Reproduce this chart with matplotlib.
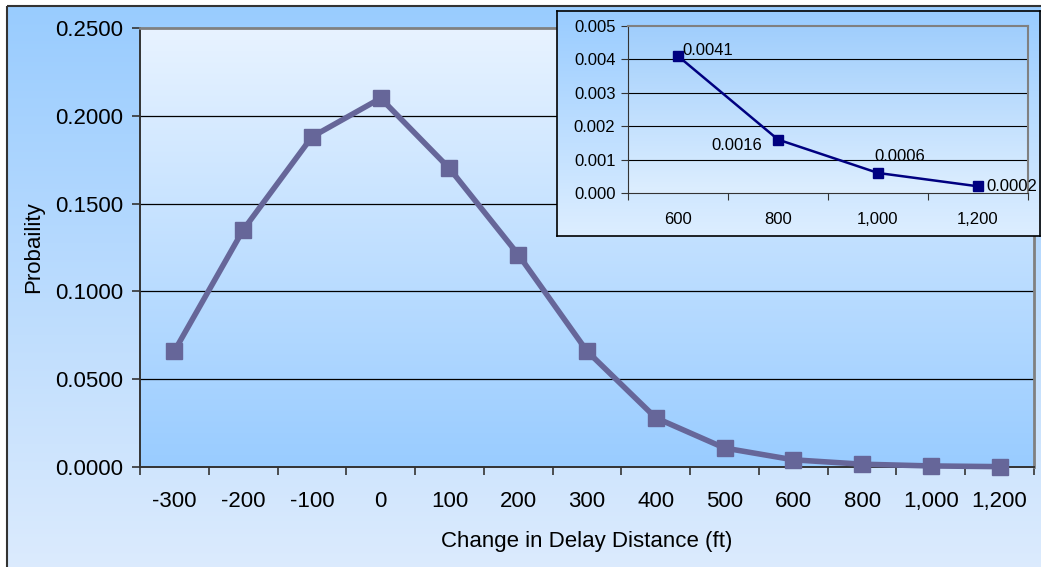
import numpy as np
import matplotlib
matplotlib.use("Agg")
import matplotlib.pyplot as plt
from matplotlib.colors import LinearSegmentedColormap
from matplotlib.patches import Rectangle

plt.rcParams['font.family'] = ['Liberation Sans', 'DejaVu Sans']

# Main series: probability of each change in delay distance
categories = ["-300", "-200", "-100", "0", "100", "200", "300", "400",
              "500", "600", "800", "1,000", "1,200"]
probability = [0.0660, 0.1350, 0.1880, 0.2100, 0.1700, 0.1210, 0.0660,
               0.0280, 0.0108, 0.0041, 0.0016, 0.0006, 0.0002]

# Tail detail
tail_categories = ["600", "800", "1,000", "1,200"]
tail_probability = [0.0041, 0.0016, 0.0006, 0.0002]
tail_labels = ["0.0041", "0.0016", "0.0006", "0.0002"]

main_yticks = [0.0, 0.05, 0.10, 0.15, 0.20, 0.25]
tail_yticks = [0.000, 0.001, 0.002, 0.003, 0.004, 0.005]

W, H = 1041, 567
fig = plt.figure(figsize=(W / 100, H / 100), dpi=100)


def px_rect(x0, y0, x1, y1):
    return [x0 / W, (H - y1) / H, (x1 - x0) / W, (y1 - y0) / H]


def gradient(ax, top, bottom, zorder=0):
    cmap = LinearSegmentedColormap.from_list("g", [bottom, top])
    grad = np.linspace(0, 1, 256).reshape(-1, 1)
    ax.imshow(grad, cmap=cmap, origin="lower", aspect="auto",
              extent=[0, 1, 0, 1], transform=ax.transAxes, zorder=zorder,
              interpolation="bicubic")


# Chart background with frame
bg = fig.add_axes([0, 0, 1, 1])
bg.set_xlim(0, W)
bg.set_ylim(H, 0)
bg.axis("off")
cmap_bg = LinearSegmentedColormap.from_list("bg", ["#DCEBFD", "#99CCFF"])
grad = np.linspace(0, 1, 256).reshape(-1, 1)
bg.imshow(grad, cmap=cmap_bg, origin="lower", aspect="auto",
          extent=[7, W + 5, H + 5, 6], zorder=0)
bg.add_patch(Rectangle((7, 6), W, H, fill=False, edgecolor="#333333",
                       linewidth=1.5, zorder=2))

# Main chart
ax = fig.add_axes(px_rect(140, 28, 1034, 467))
gradient(ax, "#E8F3FF", "#99CCFF")
x = np.arange(len(categories))
ax.plot(x, probability, color="#666699", linewidth=4, marker="s",
        markersize=11, markerfacecolor="#666699", markeredgecolor="#666699",
        zorder=3, clip_on=False)
ax.set_xlim(-0.5, len(categories) - 0.5)
ax.set_ylim(0, 0.25)
ax.set_yticks(main_yticks)
ax.set_yticklabels([f"{v:.4f}" for v in main_yticks], fontsize=16)
ax.set_xticks(np.arange(len(categories) + 1) - 0.5)
ax.set_xticklabels([])
ax.set_xticks(x, minor=True)
ax.set_xticklabels(categories, minor=True, fontsize=16)
ax.tick_params(axis="x", which="major", direction="out", length=6,
               width=1.2, color="#333333")
ax.tick_params(axis="x", which="minor", length=0, pad=17)
ax.tick_params(axis="y", direction="out", length=6, width=1.2,
               color="#333333", pad=6)
for v in main_yticks[1:-1]:
    ax.axhline(v, color="black", linewidth=0.9, zorder=1)
ax.spines["left"].set_color("#333333")
ax.spines["bottom"].set_color("#333333")
ax.spines["left"].set_linewidth(1.4)
ax.spines["bottom"].set_linewidth(1.4)
ax.spines["top"].set_color("#808080")
ax.spines["right"].set_color("#808080")
ax.spines["top"].set_linewidth(2)
ax.spines["right"].set_linewidth(2)
ax.set_ylabel("Probaility", fontsize=16, labelpad=8)
ax.set_xlabel("Change in Delay Distance (ft)", fontsize=16, labelpad=14)

# Inset frame
ins_bg = fig.add_axes(px_rect(557, 11, 1040, 236))
gradient(ins_bg, "#99CCFF", "#DDEEFF")
ins_bg.set_xticks([])
ins_bg.set_yticks([])
for s in ins_bg.spines.values():
    s.set_color("black")
    s.set_linewidth(1.2)

# Inset chart
ins = fig.add_axes(px_rect(628, 26, 1028, 193))
gradient(ins, "#A0CEFC", "#DDEEFF")
xt = np.arange(len(tail_categories))
ins.plot(xt, tail_probability, color="#000080", linewidth=1.8, marker="s",
         markersize=7, markerfacecolor="#000080", markeredgecolor="#000080",
         zorder=3, clip_on=False)
ins.set_xlim(-0.5, len(tail_categories) - 0.5)
ins.set_ylim(0, 0.005)
ins.set_yticks(tail_yticks)
ins.set_yticklabels([f"{v:.3f}" for v in tail_yticks], fontsize=12)
ins.set_xticks(np.arange(len(tail_categories) + 1) - 0.5)
ins.set_xticklabels([])
ins.set_xticks(xt, minor=True)
ins.set_xticklabels(tail_categories, minor=True, fontsize=12)
ins.tick_params(axis="x", which="major", direction="out", length=5,
                color="#333333")
ins.tick_params(axis="x", which="minor", length=0, pad=14)
ins.tick_params(axis="y", direction="out", length=5, color="#333333", pad=4)
for v in tail_yticks[1:-1]:
    ins.axhline(v, color="black", linewidth=0.8, zorder=1)
ins.spines["left"].set_color("#333333")
ins.spines["bottom"].set_color("#333333")
ins.spines["top"].set_color("#808080")
ins.spines["right"].set_color("#808080")
ins.spines["top"].set_linewidth(1.5)
ins.spines["right"].set_linewidth(1.5)

offsets = [(4, 6, "left"), (-16, -6, "right"), (-4, 16, "left"), (8, 0, "left")]
for xi, yi, lab, (dx, dy, ha) in zip(xt, tail_probability, tail_labels, offsets):
    ins.annotate(lab, (xi, yi), xytext=(dx, dy), textcoords="offset pixels",
                 ha=ha, va="center", fontsize=12, color="black", zorder=4,
                 annotation_clip=False)

fig.savefig("out.png", dpi=100)
